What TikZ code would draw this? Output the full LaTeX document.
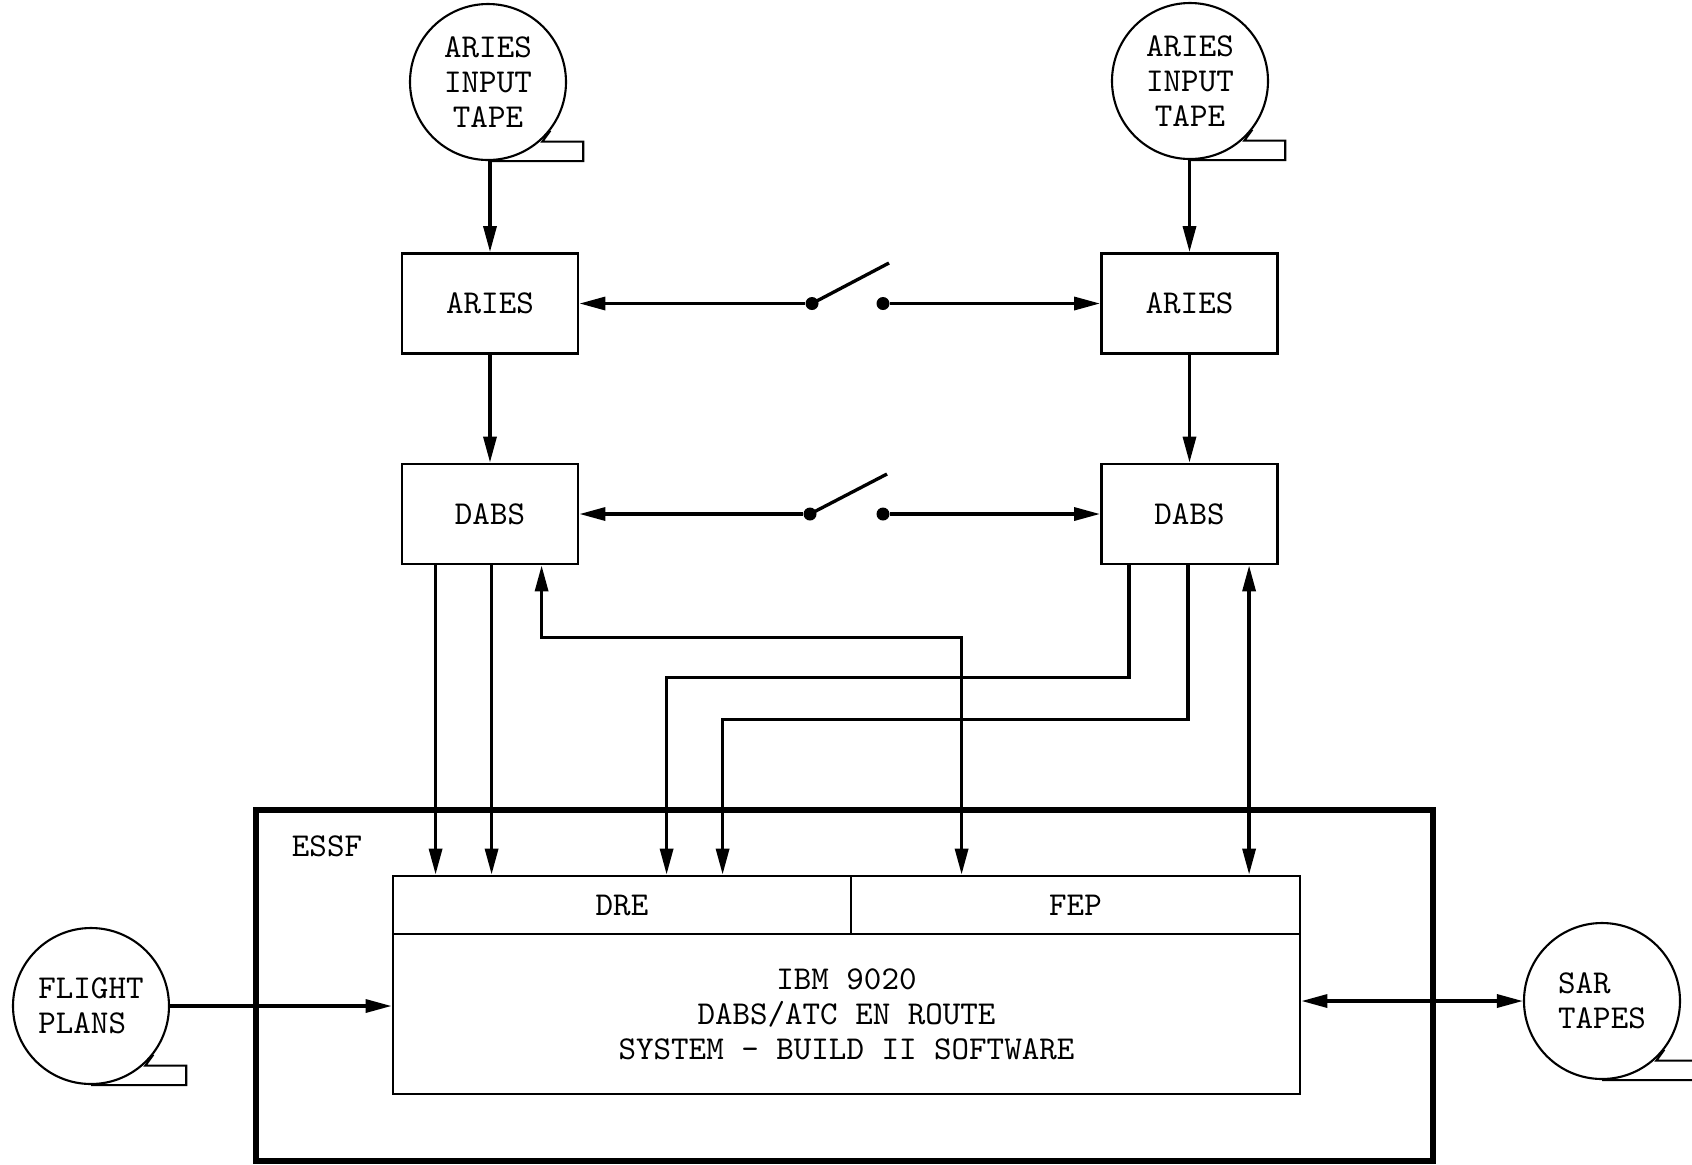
\documentclass[tikz,border=0pt]{standalone}
\usetikzlibrary{arrows.meta, calc}
\newcommand{\letra}{\fontsize{9.5}{10}\selectfont\ttfamily}
\tikzset{
  caja/.style        = {draw, black, line width=0.8pt, inner sep=0pt, font=\letra, align=center},
  cinta/.style       = {circle, draw, black, line width=0.6pt, minimum size=15.6mm, inner sep=0pt, align=center, font=\letra},
  colacinta/.style   = {black, line width=0.6pt},
  flecha/.style      = {->, black, line width=0.95pt},
  dobleflecha/.style = {<->, black, line width=0.95pt},
  cuchilla/.style    = {black, line width=0.95pt},
  punto/.style       = {circle, fill=black, inner sep=0pt, minimum size=1.3mm},
  marco/.style       = {draw, black, line width=1.5pt}
}

\begin{document}
\begin{tikzpicture}[>={Triangle[length=2.6mm, width=1.3mm]}, x=0.1mm, y=-0.1mm]
  \useasboundingbox (0,0) rectangle (1692,1164);

  % cintas
  \node[cinta] (cintaL) at (488,82)   {ARIES\\INPUT\\TAPE};
  \node[cinta] (cintaR) at (1190,81)  {ARIES\\INPUT\\TAPE};
  \node[cinta, align=left] (vuelo) at (91,1006)  {FLIGHT\\PLANS};
  \node[cinta, align=left] (sar)   at (1602,1001) {SAR\\TAPES};
  \foreach \c in {cintaL, cintaR, vuelo, sar}{
    \draw[colacinta] (\c.-38) -- ++(-8,11) -- ++(41,0) |- (\c.south);
  }

  % cajas
  \node[caja, minimum width=17.6mm, minimum height=10mm] (ariesL) at (490,303.5)  {ARIES};
  \node[caja, minimum width=17.6mm, minimum height=10mm] (ariesR) at (1189.5,303.5) {ARIES};
  \node[caja, minimum width=17.6mm, minimum height=10mm] (dabsL)  at (490,514)    {DABS};
  \node[caja, minimum width=17.6mm, minimum height=10mm] (dabsR)  at (1189.5,514) {DABS};

  \node[marco, minimum width=117.7mm, minimum height=35.1mm] (essf) at (844.5,985.5) {};
  \node[font=\letra] (essftxt) at (327,846) {ESSF};
  \node[caja, minimum width=45.8mm, minimum height=5.8mm] (dre) at (622,905)    {DRE};
  \node[caja, minimum width=44.9mm, minimum height=5.8mm] (fep) at (1075.5,905) {FEP};
  \node[caja, minimum width=90.7mm, minimum height=16mm]  (ibm) at (846.5,1014)
    {IBM 9020\\DABS/ATC EN ROUTE\\SYSTEM - BUILD II SOFTWARE};

  % flujo vertical
  \draw[flecha] (ariesL.north |- cintaL.south) -- (ariesL.north);
  \draw[flecha] (ariesR.north |- cintaR.south) -- (ariesR.north);
  \draw[flecha] (ariesL.south) -- (dabsL.north);
  \draw[flecha] (ariesR.south) -- (dabsR.north);

  % interruptores
  \node[punto] (i1a) at (812,303.5) {};
  \node[punto] (i1b) at (883,303.5) {};
  \coordinate (i1c) at (889,263);
  \draw[flecha] (i1a) -- (ariesL.east);
  \draw[flecha] (i1b) -- (ariesR.west);
  \draw[cuchilla] (i1a.center) -- (i1c);

  \node[punto] (i2a) at (810,514) {};
  \node[punto] (i2b) at (883,514) {};
  \coordinate (i2c) at (887,474);
  \draw[flecha] (i2a) -- (dabsL.east);
  \draw[flecha] (i2b) -- (dabsR.west);
  \draw[cuchilla] (i2a.center) -- (i2c);

  % salidas DABS
  \coordinate (b1) at ($(dabsL.south west)+(35,0)$);
  \coordinate (b2) at ($(dabsL.south west)+(91,0)$);
  \coordinate (b3) at ($(dabsL.south west)+(141,0)$);
  \coordinate (c1) at ($(dabsR.south west)+(29,0)$);
  \coordinate (c2) at ($(dabsR.south west)+(88,0)$);
  \coordinate (c3) at ($(dabsR.south west)+(149,0)$);
  \coordinate (d1) at ($(dre.north west)+(275,0)$);
  \coordinate (d2) at ($(dre.north west)+(331,0)$);
  \coordinate (f1) at ($(fep.north west)+(112,0)$);

  \draw[flecha] (b1) -- (b1 |- dre.north);
  \draw[flecha] (b2) -- (b2 |- dre.north);
  \draw[dobleflecha] (b3) -- ++(0,72) -| (f1);
  \draw[flecha] (c1) -- ++(0,112) -| (d1);
  \draw[flecha] (c2) -- ++(0,154) -| (d2);
  \draw[dobleflecha] (c3) -- (c3 |- fep.north);

  % cintas laterales
  \draw[flecha] (vuelo.east) -- (vuelo.east -| ibm.west);
  \draw[dobleflecha] (ibm.east |- sar.west) -- (sar.west);
\end{tikzpicture}
\end{document}
